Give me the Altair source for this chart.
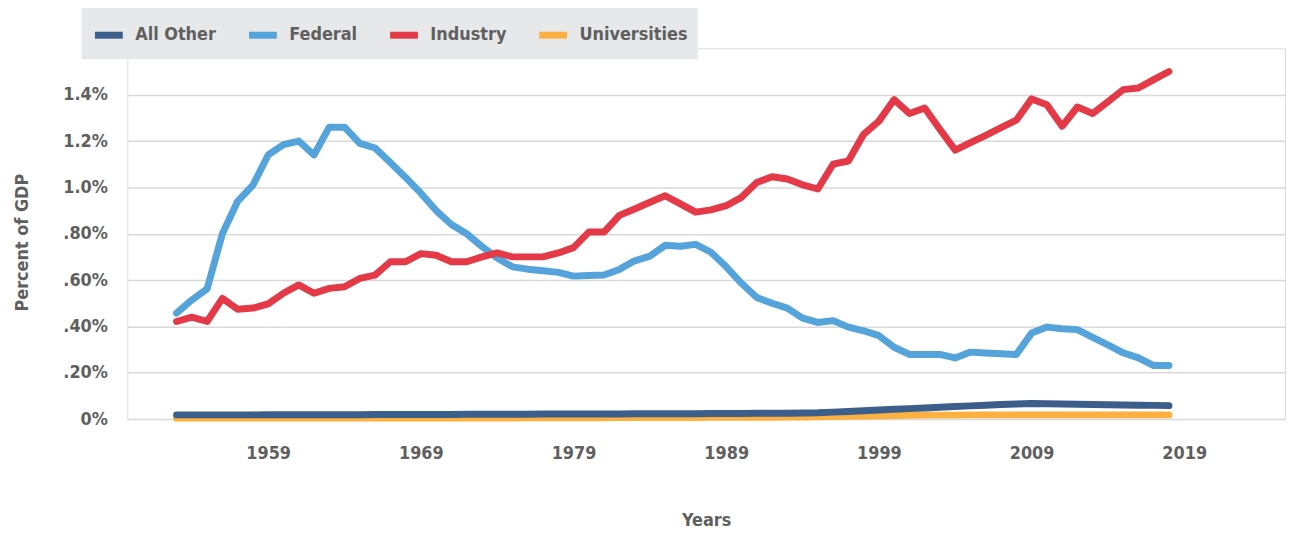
import altair as alt
import pandas as pd

years = list(range(1953, 2019))

all_other = [0.018, 0.018, 0.018, 0.018, 0.018, 0.018, 0.019, 0.019, 0.019, 0.019,
             0.019, 0.019, 0.019, 0.020, 0.020, 0.020, 0.020, 0.020, 0.020, 0.021,
             0.021, 0.021, 0.021, 0.021, 0.022, 0.022, 0.022, 0.022, 0.022, 0.022,
             0.023, 0.023, 0.023, 0.023, 0.023, 0.024, 0.024, 0.024, 0.025, 0.025,
             0.025, 0.026, 0.027, 0.030, 0.033, 0.036, 0.039, 0.042, 0.045, 0.048,
             0.051, 0.054, 0.057, 0.060, 0.063, 0.065, 0.067, 0.066, 0.065, 0.064,
             0.063, 0.062, 0.061, 0.060, 0.059, 0.058]

federal = [0.457, 0.514, 0.562, 0.80, 0.94, 1.01, 1.14, 1.185, 1.20, 1.14,
           1.26, 1.26, 1.19, 1.17, 1.107, 1.043, 0.975, 0.90, 0.84, 0.80,
           0.745, 0.695, 0.657, 0.647, 0.64, 0.633, 0.617, 0.62, 0.622, 0.646,
           0.683, 0.703, 0.75, 0.746, 0.754, 0.72, 0.657, 0.586, 0.525, 0.50,
           0.479, 0.436, 0.417, 0.425, 0.397, 0.381, 0.36, 0.31, 0.279, 0.279,
           0.279, 0.264, 0.289, 0.285, 0.282, 0.279, 0.371, 0.397, 0.39, 0.386,
           0.353, 0.32, 0.286, 0.264, 0.231, 0.231]

industry = [0.421, 0.44, 0.421, 0.521, 0.474, 0.479, 0.497, 0.543, 0.579, 0.543,
            0.564, 0.571, 0.607, 0.621, 0.679, 0.679, 0.714, 0.707, 0.679, 0.679,
            0.70, 0.717, 0.70, 0.70, 0.70, 0.717, 0.74, 0.807, 0.807, 0.879,
            0.907, 0.936, 0.964, 0.929, 0.893, 0.903, 0.921, 0.957, 1.021, 1.046,
            1.036, 1.011, 0.993, 1.10, 1.114, 1.229, 1.286, 1.379, 1.319, 1.343,
            1.25, 1.161, 1.193, 1.225, 1.258, 1.29, 1.382, 1.357, 1.264, 1.347,
            1.319, 1.37, 1.422, 1.429, 1.465, 1.50]

universities = [0.004, 0.004, 0.004, 0.004, 0.004, 0.004, 0.004, 0.004, 0.004, 0.004,
                0.004, 0.004, 0.005, 0.005, 0.005, 0.005, 0.005, 0.005, 0.005, 0.005,
                0.005, 0.005, 0.005, 0.006, 0.006, 0.006, 0.006, 0.006, 0.006, 0.007,
                0.007, 0.007, 0.007, 0.007, 0.007, 0.008, 0.008, 0.008, 0.008, 0.008,
                0.009, 0.009, 0.010, 0.011, 0.012, 0.013, 0.014, 0.015, 0.016, 0.017,
                0.017, 0.017, 0.018, 0.018, 0.018, 0.018, 0.018, 0.018, 0.018, 0.018,
                0.018, 0.018, 0.018, 0.018, 0.018, 0.018]

series_names = ["All Other", "Federal", "Industry", "Universities"]
series_colors = ["#3b5f8a", "#54a3db", "#e43a47", "#fbb040"]
draw_order = ["Universities", "Federal", "Industry", "All Other"]

y_ticks = [0, 0.2, 0.4, 0.6, 0.8, 1.0, 1.2, 1.4]
y_tick_labels = ["0%", ".20%", ".40%", ".60%", ".80%", "1.0%", "1.2%", "1.4%"]
x_ticks = [1959, 1969, 1979, 1989, 1999, 2009, 2019]

rows = []
for name, vals in zip(series_names, [all_other, federal, industry, universities]):
    for yr, v in zip(years, vals):
        rows.append({"Year": yr, "Series": name, "Value": v})
df = pd.DataFrame(rows)

label_expr = " : ".join(
    f"abs(datum.value - {v}) < 0.001 ? '{l}'" for v, l in zip(y_ticks, y_tick_labels)
) + " : ''"

FONT = "Liberation Sans Narrow, DejaVu Sans Condensed, sans-serif"
GRAY = "#5f5f5f"
FS = 18

x_enc = alt.X(
    "Year:Q",
    scale=alt.Scale(domain=[1949.77, 2025.6], nice=False, zero=False),
    axis=alt.Axis(values=x_ticks, format="d", grid=False, domain=False, ticks=False,
                  labelFont=FONT, labelFontSize=FS, labelFontWeight="bold", labelColor=GRAY,
                  labelPadding=26, title="Years", titleFont=FONT, titleFontSize=FS,
                  titleFontWeight="bold", titleColor=GRAY, titlePadding=49),
)
y_enc = alt.Y(
    "Value:Q",
    scale=alt.Scale(domain=[0, 1.6], nice=False),
    axis=alt.Axis(values=y_ticks, labelExpr=label_expr, grid=True, gridColor="#d9d9d9",
                  gridWidth=1.5, domain=False, ticks=False, labelFont=FONT, labelFontSize=FS,
                  labelFontWeight="bold", labelColor=GRAY, labelPadding=20,
                  title="Percent of GDP", titleFont=FONT, titleFontSize=FS,
                  titleFontWeight="bold", titleColor=GRAY, titleX=-96, titleY=195),
)
color_enc = alt.Color(
    "Series:N",
    scale=alt.Scale(domain=series_names, range=series_colors),
    legend=alt.Legend(title=None, orient="none", legendX=-46, legendY=-41,
                      direction="horizontal", fillColor="#e7e8ea", padding=10,
                      symbolType="stroke", symbolStrokeWidth=7, symbolSize=784,
                      labelFont=FONT, labelFontSize=FS, labelFontWeight="bold",
                      labelColor=GRAY, labelOffset=9, columnPadding=18),
)

base = alt.Chart(df)
layers = []
for name in draw_order:
    layers.append(
        base.transform_filter(alt.datum.Series == name)
        .mark_line(strokeWidth=7, strokeCap="round", strokeJoin="round")
        .encode(x=x_enc, y=y_enc, color=color_enc)
    )

chart = alt.layer(*layers).properties(
    width=1165, height=373,
    autosize=alt.AutoSizeParams(type="none"),
    padding={"left": 120, "top": 39, "right": 3, "bottom": 110},
).configure_view(stroke=None).configure(background="white")

chart.save("out.html", embed_options={"renderer": "svg", "actions": False})
